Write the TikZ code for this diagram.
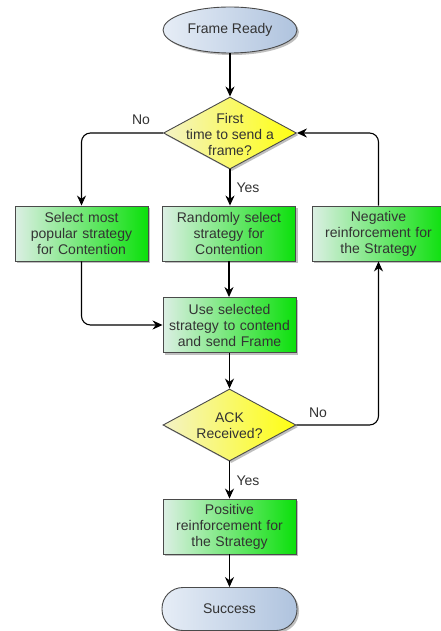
\documentclass[tikz,border=0pt]{standalone}
\usepackage{fontspec}
\setmainfont{Liberation Sans}
\usetikzlibrary{shapes.geometric,shadows,arrows.meta}
\definecolor{txt}{HTML}{333333}
\definecolor{bord}{HTML}{4A4A4A}
\definecolor{gl}{HTML}{DCEFE4}
\definecolor{gr}{HTML}{0BE00B}
\definecolor{yl}{HTML}{F3F2C6}
\definecolor{yr}{HTML}{FFFF10}
\definecolor{bl}{HTML}{E6EDF6}
\definecolor{br}{HTML}{AFC3DE}
\tikzset{
  base/.style={draw=bord, line width=0.9pt, inner sep=0pt, text=txt,
    font=\fontsize{14}{16}\selectfont, align=center,
    drop shadow={shadow xshift=2pt, shadow yshift=-2pt, opacity=0.25, fill=black}},
  procbox/.style={base, rectangle, minimum width=133pt, minimum height=55pt,
    text width=130pt, left color=gl, right color=gr},
  decis/.style={base, diamond, minimum width=133pt, minimum height=72pt,
    left color=yl, right color=yr},
  term/.style={base, ellipse, minimum width=134pt, minimum height=46pt,
    left color=bl, right color=br},
  stad/.style={base, rectangle, rounded corners=21pt, minimum width=135pt,
    minimum height=43pt, left color=bl, right color=br},
  dtext/.style={text=txt, font=\fontsize{14}{16}\selectfont, align=center, inner sep=0pt},
  lbl/.style={text=txt, font=\fontsize{14}{16}\selectfont, inner sep=0pt},
  arr/.style={draw=black, line width=1.1pt, -{Stealth[length=10pt,width=9pt]}, rounded corners=9pt}
}
\begin{document}
\begin{tikzpicture}[x=1pt,y=-1pt]
\clip (0,0) rectangle (441,631);
\fill[white] (0,0) rectangle (441,631);
\node[term] (fr) at (230,30) {Frame Ready};
\node[decis] (d1) at (230,133) {};
\node[dtext] (d1t) at (230,134) {First\\time to send a\\frame?};
\node[procbox] (b1) at (81.5,233.5) {Select most\\popular strategy\\for Contention};
\node[procbox] (b2) at (229,233.5) {Randomly select\\strategy for\\Contention};
\node[procbox] (b3) at (378.5,233.5) {Negative\\reinforcement for\\the Strategy};
\node[procbox] (u) at (229.5,325) {Use selected\\strategy to contend\\and send Frame};
\node[decis] (d2) at (229.5,425) {};
\node[dtext] (d2t) at (229.5,426) {ACK\\Received?};
\node[procbox] (p) at (229.5,526.5) {Positive\\reinforcement for\\the Strategy};
\node[stad] (s) at (229.5,609) {Success};
\node[lbl] (no1) at (141,120) {No};
\node[lbl] (yes1) at (248,188) {Yes};
\node[lbl] (no2) at (318,413) {No};
\node[lbl] (yes2) at (248,481) {Yes};
\draw[arr] (fr.south) -- (d1.north);
\draw[arr] (d1.west) -| (b1.north);
\draw[arr] (d1.south) -- (d1.south |- b2.north);
\draw[arr] (b3.north) |- (d1.east);
\draw[arr] (b1.south) |- (u.west);
\draw[arr] (b2.south) -- (b2.south |- u.north);
\draw[arr] (u.south) -- (d2.north);
\draw[arr] (d2.east) -| (b3.south);
\draw[arr] (d2.south) -- (p.north);
\draw[arr] (p.south) -- (s.north);
\end{tikzpicture}
\end{document}
